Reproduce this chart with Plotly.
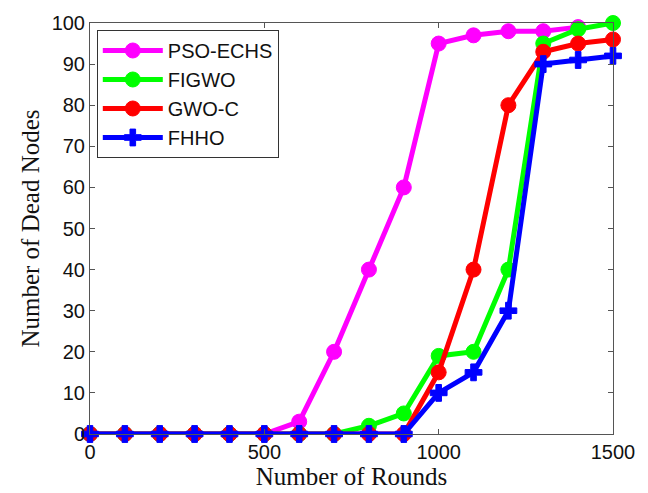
import plotly.graph_objects as go

rounds = [0, 100, 200, 300, 400, 500, 600, 700, 800, 900, 1000, 1100, 1200, 1300, 1400, 1500]
pso_echs = [0, 0, 0, 0, 0, 0, 3, 20, 40, 60, 95, 97, 98, 98, 99]
figwo = [0, 0, 0, 0, 0, 0, 0, 0, 2, 5, 19, 20, 40, 95, 98.5, 100]
gwo_c = [0, 0, 0, 0, 0, 0, 0, 0, 0, 0, 15, 40, 80, 93, 95, 96]
fhho = [0, 0, 0, 0, 0, 0, 0, 0, 0, 0, 10, 15, 30, 90, 91, 92]

series = [
    ("PSO-ECHS", pso_echs, "#ff00ff", "circle"),
    ("FIGWO", figwo, "#00ff00", "circle"),
    ("GWO-C", gwo_c, "#ff0000", "circle"),
    ("FHHO", fhho, "#0000ff", "cross"),
]

fig = go.Figure()
for name, vals, color, sym in series:
    fig.add_trace(go.Scatter(
        x=rounds[:len(vals)], y=vals, name=name, mode="lines+markers",
        line=dict(color=color, width=5),
        marker=dict(symbol=sym, size=15 if sym == "circle" else 14, color=color,
                    line=dict(color=color, width=1)),
        cliponaxis=False,
    ))

axis_common = dict(
    showline=True, linecolor="#555555", linewidth=1, mirror="ticks",
    ticks="inside", ticklen=5, tickcolor="#555555", showgrid=False, zeroline=False,
    tickfont=dict(family="Liberation Sans, Arial", size=20, color="#111111"),
)

title_font = dict(family="Liberation Serif, Times New Roman", size=25, color="#111111")

fig.update_layout(
    width=648, height=493,
    margin=dict(l=90, r=35, t=20, b=59),
    paper_bgcolor="white", plot_bgcolor="white",
    xaxis=dict(range=[0, 1500], tickvals=[0, 500, 1000, 1500],
               title=dict(text="Number of Rounds", standoff=0, font=title_font),
               **axis_common),
    yaxis=dict(range=[0, 100], tickvals=list(range(0, 101, 10)),
               title=dict(text="Number of Dead Nodes", standoff=4, font=title_font),
               **axis_common),
    legend=dict(x=0.013, y=0.983, xanchor="left", yanchor="top",
                bordercolor="#333333", borderwidth=1, bgcolor="white",
                font=dict(family="Liberation Sans, Arial", size=20, color="#111111"),
                itemwidth=60, tracegroupgap=2),
    showlegend=True,
)

fig.write_html("out.html")
